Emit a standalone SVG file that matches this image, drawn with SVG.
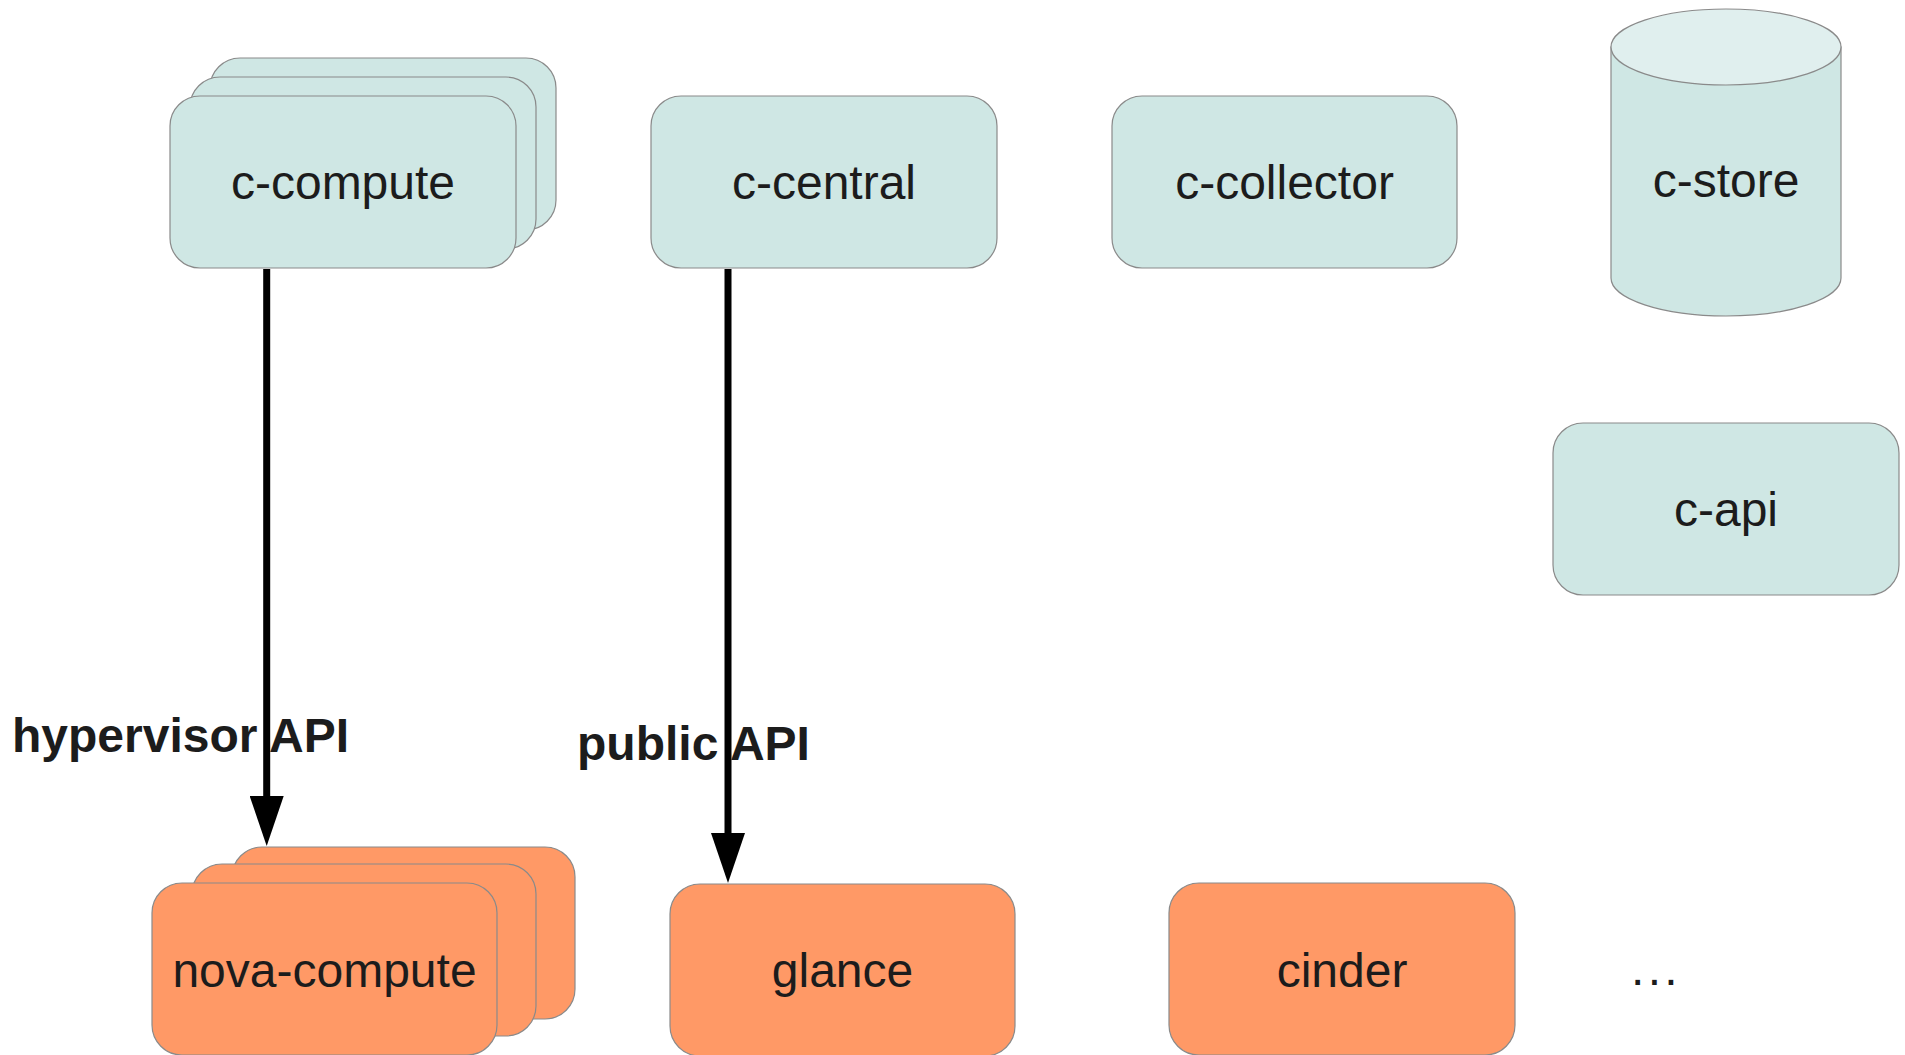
<svg xmlns="http://www.w3.org/2000/svg" width="1905" height="1055" viewBox="0 0 1905 1055">
<style>
.teal{fill:#cfe7e4;stroke:#8a8a8a;stroke-width:1.2}
.tealtop{fill:#e0efee;stroke:#8a8a8a;stroke-width:1.2}
.orange{fill:#ff9966;stroke:#8a8a8a;stroke-width:1.2}
.t{font-family:"Liberation Sans",Arial,sans-serif;font-size:48px;fill:#1c1c1c;text-anchor:middle}
.lbl{font-family:"Liberation Sans",Arial,sans-serif;font-size:48px;font-weight:bold;fill:#1c1c1c}
.conn{stroke:#000;stroke-width:7;fill:none}
</style>
<defs>
<marker id="arr" markerUnits="userSpaceOnUse" markerWidth="50" markerHeight="34" viewBox="0 0 50 34" refX="0" refY="17" orient="auto">
<path d="M0,0 L50,17 L0,34 Z" fill="#000"/>
</marker>
</defs>
<rect width="1905" height="1055" fill="#fff"/>

<g id="c-compute">
<rect class="teal" x="210" y="58" width="346" height="172" rx="30" ry="30"/>
<rect class="teal" x="190" y="77" width="346" height="172" rx="30" ry="30"/>
<rect class="teal" x="170" y="96" width="346" height="172" rx="30" ry="30"/>
<text class="t" x="343" y="199">c-compute</text>
</g>

<g id="c-central">
<rect class="teal" x="651" y="96" width="346" height="172" rx="30" ry="30"/>
<text class="t" x="824" y="199">c-central</text>
</g>

<g id="c-collector">
<rect class="teal" x="1112" y="96" width="345" height="172" rx="30" ry="30"/>
<text class="t" x="1284.5" y="199">c-collector</text>
</g>

<g id="c-store">
<path class="teal" d="M1611,47 L1611,278 A115,38 0 0 0 1841,278 L1841,47 Z"/>
<ellipse class="tealtop" cx="1726" cy="47" rx="115" ry="38"/>
<text class="t" x="1726" y="197">c-store</text>
</g>

<g id="c-api">
<rect class="teal" x="1553" y="423" width="346" height="172" rx="30" ry="30"/>
<text class="t" x="1726" y="526">c-api</text>
</g>

<g id="nova-compute">
<rect class="orange" x="232" y="847" width="343" height="172" rx="30" ry="30"/>
<rect class="orange" x="192" y="864" width="344" height="172" rx="30" ry="30"/>
<rect class="orange" x="152" y="883" width="345" height="172" rx="30" ry="30"/>
<text class="t" x="324.5" y="987">nova-compute</text>
</g>

<g id="glance">
<rect class="orange" x="670" y="884" width="345" height="172" rx="30" ry="30"/>
<text class="t" x="842.5" y="987">glance</text>
</g>

<g id="cinder">
<rect class="orange" x="1169" y="883" width="346" height="172" rx="30" ry="30"/>
<text class="t" x="1342" y="987">cinder</text>
</g>

<g id="more">
<text class="t" x="1656" y="985" style="letter-spacing:3.4px">...</text>
</g>

<g id="connectors">
<path class="conn" d="M266.7,269 L266.7,796" marker-end="url(#arr)"/>
<path class="conn" d="M728,269 L728,833" marker-end="url(#arr)"/>
<text class="lbl" x="12" y="752">hypervisor API</text>
<text class="lbl" x="577" y="760">public API</text>
</g>
</svg>
